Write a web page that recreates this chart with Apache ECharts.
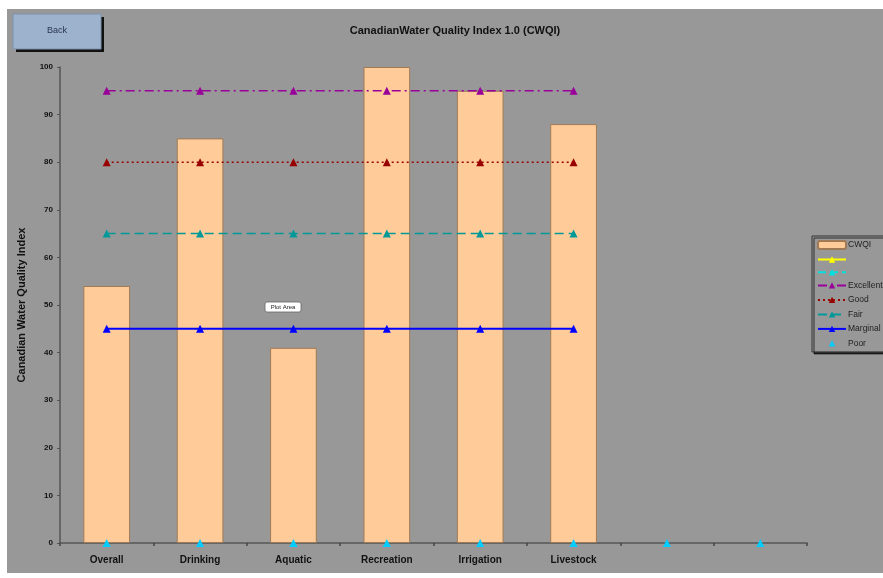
<!DOCTYPE html>
<html>
<head>
<meta charset="utf-8">
<script src="https://cdn.jsdelivr.net/npm/echarts@6/dist/echarts.min.js"></script>
<style>
  html, body { margin: 0; padding: 0; background: #ffffff; }
  #chart { width: 883px; height: 578px; }
</style>
</head>
<body>
<div id="chart"></div>
<script>
// Categories along the x axis (last two slots are unlabeled)
const categories = ['Overall', 'Drinking', 'Aquatic', 'Recreation', 'Irrigation', 'Livestock', '', ''];
// CWQI scores per category
const cwqi = [54, 85, 41, 100, 95, 88, null, null];
// Rating thresholds drawn across the scored categories
const excellent = [95, 95, 95, 95, 95, 95, null, null];
const good      = [80, 80, 80, 80, 80, 80, null, null];
const fair      = [65, 65, 65, 65, 65, 65, null, null];
const marginal  = [45, 45, 45, 45, 45, 45, null, null];
const poor      = [0, 0, 0, 0, 0, 0, 0, 0];
// Y axis ticks
const yTicks = { min: 0, max: 100, interval: 10 };

const chart = echarts.init(document.getElementById('chart'));

const lineSeries = (name, data, color, type, width) => ({
  name: name,
  type: 'line',
  data: data,
  symbol: 'triangle',
  symbolSize: 8,
  connectNulls: false,
  itemStyle: { color: color },
  lineStyle: { color: color, type: type, width: width },
  z: 3
});

chart.setOption({
  animation: false,
  title: {
    text: 'CanadianWater Quality Index 1.0 (CWQI)',
    left: 450,
    top: 20,
    textAlign: 'center',
    textStyle: { fontFamily: 'Liberation Sans, Arial', fontSize: 11, fontWeight: 'bold', color: '#111' }
  },
  graphic: [
    { type: 'rect', z: -10, shape: { x: 7, y: 9, width: 876, height: 564 }, style: { fill: '#989898' } },
    { type: 'rect', z: 5, shape: { x: 16, y: 17, width: 88, height: 35 }, style: { fill: '#111' } },
    { type: 'rect', z: 6, shape: { x: 13, y: 14, width: 88, height: 35 }, style: { fill: '#9db2cc', stroke: '#7f93ad', lineWidth: 1 } },
    { type: 'text', z: 7, x: 57, y: 31, style: { text: 'Back', fill: '#2a3550', font: '9px "Liberation Sans", Arial', textAlign: 'center', textVerticalAlign: 'middle' } },
    { type: 'rect', z: 8, shape: { x: 265, y: 302, width: 36, height: 10, r: 2 }, style: { fill: '#ffffff', stroke: '#666', lineWidth: 0.8 } },
    { type: 'text', z: 9, x: 283, y: 307.5, style: { text: 'Plot Area', fill: '#222', font: '6px "Liberation Sans", Arial', textAlign: 'center', textVerticalAlign: 'middle' } }
  ],
  legend: {
    orient: 'vertical',
    left: 812,
    top: 236,
    padding: [4, 8, 4, 5],
    itemWidth: 28,
    itemHeight: 8,
    itemGap: 5.5,
    backgroundColor: '#989898',
    borderColor: '#333',
    borderWidth: 1,
    shadowColor: 'rgba(0,0,0,0.7)',
    shadowOffsetX: 2,
    shadowOffsetY: 2,
    textStyle: { fontFamily: 'Liberation Sans, Arial', fontSize: 8.5, color: '#222', padding: [0, 0, 0, -3] },
    formatter: name => name.trim(),
    data: ['CWQI', ' ', '  ', 'Excellent', 'Good', 'Fair', 'Marginal', 'Poor']
  },
  grid: { left: 60, right: 76, top: 67, bottom: 35 },
  xAxis: {
    type: 'category',
    data: categories,
    boundaryGap: true,
    axisLine: { lineStyle: { color: '#555', width: 1.5 } },
    axisTick: { show: true, inside: false, length: 3, lineStyle: { color: '#444', width: 1.5 } },
    axisLabel: { fontFamily: 'Liberation Sans, Arial', fontSize: 10, fontWeight: 'bold', color: '#111', margin: 12 }
  },
  yAxis: {
    type: 'value',
    min: yTicks.min,
    max: yTicks.max,
    interval: yTicks.interval,
    name: 'Canadian Water Quality Index',
    nameLocation: 'middle',
    nameRotate: 90,
    nameGap: 33,
    nameTextStyle: { fontFamily: 'Liberation Sans, Arial', fontSize: 11, fontWeight: 'bold', color: '#111' },
    axisLine: { show: true, lineStyle: { color: '#555', width: 1.5 } },
    axisTick: { show: true, length: 3, lineStyle: { color: '#555' } },
    splitLine: { show: false },
    axisLabel: { fontFamily: 'Liberation Sans, Arial', fontSize: 8, fontWeight: 'bold', color: '#111', margin: 7 }
  },
  series: [
    {
      name: 'CWQI',
      type: 'bar',
      data: cwqi,
      barWidth: '50%',
      itemStyle: { color: '#ffcc99', borderColor: '#a07a55', borderWidth: 1 },
      z: 2
    },
    { name: ' ', type: 'line', data: [], symbol: 'triangle', itemStyle: { color: '#ffff00' }, lineStyle: { color: '#ffff00', width: 2 } },
    { name: '  ', type: 'line', data: [], symbol: 'triangle', itemStyle: { color: '#00e0e0' }, lineStyle: { color: '#00e0e0', type: 'dashed', width: 2 } },
    lineSeries('Excellent', excellent, '#990099', [9, 4, 2, 4], 1.5),
    lineSeries('Good', good, '#990000', [2, 3], 1.5),
    lineSeries('Fair', fair, '#009999', [9, 5], 1.5),
    lineSeries('Marginal', marginal, '#0000ff', 'solid', 2),
    Object.assign(lineSeries('Poor', poor, '#00ccff', 'solid', 0), { lineStyle: { width: 0, opacity: 0 } })
  ]
});
</script>
</body>
</html>
